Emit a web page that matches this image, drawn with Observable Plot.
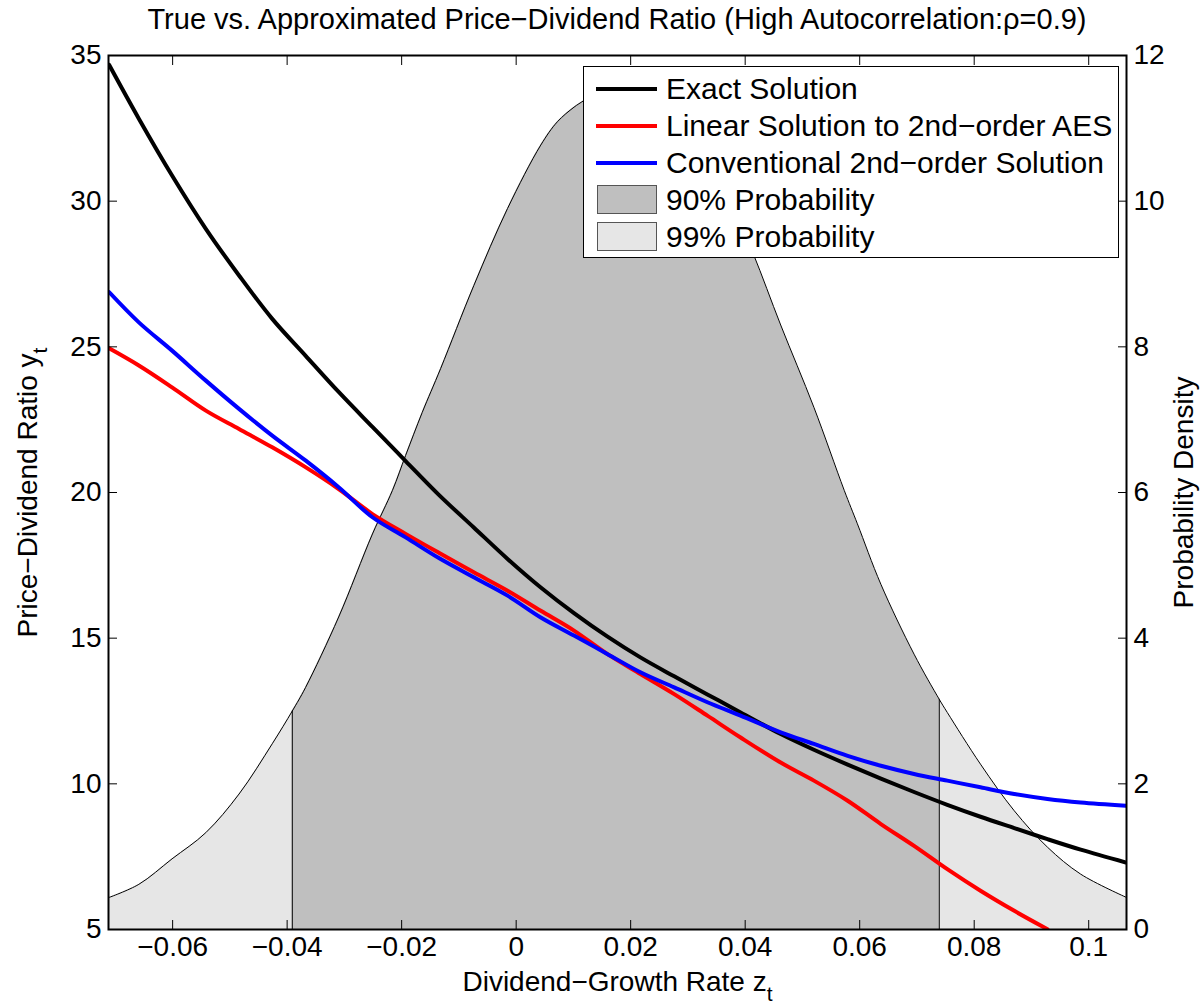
<!DOCTYPE html>
<html>
<head>
<meta charset="utf-8">
<script src="https://cdn.jsdelivr.net/npm/d3@7"></script>
<script src="https://cdn.jsdelivr.net/npm/@observablehq/plot@0.6"></script>
<style>
  html, body { margin: 0; padding: 0; background: #fff; }
  body { font-family: "Liberation Sans", Arial, Helvetica, sans-serif; color: #000; }
  #wrap { position: relative; width: 1200px; height: 1007px; }
  #title { height: 40px; width: 1234px; text-align: center; font-size: 29px; line-height: 38px; white-space: nowrap; }
  #legend { position: absolute; left: 583px; top: 66px; width: 536px; height: 192px; box-sizing: border-box;
            border: 1px solid #000; background: #fff; padding-top: 3px; }
  .row { display: flex; align-items: center; height: 37px; font-size: 30px; white-space: nowrap; }
  .sw { width: 61px; margin-left: 12px; margin-right: 9px; display: flex; align-items: center; justify-content: center; }
  .ln { width: 61px; height: 4px; }
  .pt { width: 58px; height: 27px; border: 1px solid #555; }
</style>
</head>
<body>
<div id="wrap">
  <div id="title">True vs. Approximated Price−Dividend Ratio (High Autocorrelation:ρ=0.9)</div>
  <div id="chart"></div>
  <div id="legend"></div>
</div>
<script>
// ---------------- data ----------------
const xDomain = [-0.0712, 0.1066];
const leftDomain = [5, 35];
const rightDomain = [0, 12];

const xTicks = [-0.06, -0.04, -0.02, 0, 0.02, 0.04, 0.06, 0.08, 0.1];
const yLeftTicks = [5, 10, 15, 20, 25, 30, 35];
const yRightTicks = [0, 2, 4, 6, 8, 10, 12];

const zGrid = [-0.0711, -0.0659, -0.0601, -0.0542, -0.0484, -0.0426, -0.0368, -0.0310, -0.0251, -0.0193,
               -0.0135, -0.0074, -0.0015, 0.0043, 0.0101, 0.0159, 0.0217, 0.0276, 0.0334, 0.0392,
               0.0462, 0.0520, 0.0579, 0.0637, 0.0695, 0.0753, 0.0811, 0.0870, 0.0928, 0.0986, 0.1065];

const exactY = [34.68, 32.83, 30.88, 29.05, 27.45, 25.96, 24.70, 23.45, 22.25, 21.08,
                19.92, 18.80, 17.72, 16.74, 15.86, 15.06, 14.34, 13.69, 13.07, 12.45,
                11.71, 11.17, 10.66, 10.18, 9.72, 9.28, 8.87, 8.48, 8.10, 7.74, 7.30];

const linearY = [24.95, 24.36, 23.61, 22.81, 22.18, 21.55, 20.87, 20.12, 19.26, 18.58,
                 17.93, 17.26, 16.63, 15.94, 15.26, 14.46, 13.77, 13.08, 12.34, 11.59,
                 10.73, 10.11, 9.42, 8.62, 7.87, 7.07, 6.33, 5.64, 5.01];

const conventionalY = [26.88, 25.84, 24.87, 23.84, 22.87, 21.95, 21.10, 20.18, 19.15, 18.46,
                       17.75, 17.09, 16.46, 15.71, 15.09, 14.46, 13.83, 13.31, 12.80, 12.34,
                       11.77, 11.37, 10.96, 10.62, 10.34, 10.11, 9.88, 9.65, 9.48, 9.36, 9.25];

const densityZ = [-0.0711, -0.0659, -0.0601, -0.0542, -0.0484, -0.0426, -0.0391, -0.0368, -0.0310, -0.0251,
                  -0.0216, -0.0193, -0.0164, -0.0132, -0.0074, -0.0015, 0.0043, 0.0072, 0.0101, 0.0118,
                  0.0145, 0.0174, 0.0205, 0.0235, 0.0260, 0.0300, 0.0350, 0.0413, 0.0462,
                  0.0520, 0.0573, 0.0596, 0.0637, 0.0695, 0.0739, 0.0753, 0.0811, 0.0870, 0.0928,
                  0.0986, 0.1066];
const densityP = [0.44, 0.62, 0.97, 1.33, 1.86, 2.55, 3.00, 3.32, 4.29, 5.43,
                  6.03, 6.51, 7.10, 7.70, 8.84, 9.90, 10.77, 11.09, 11.29, 11.38,
                  11.52, 11.60, 11.58, 11.48, 11.32, 11.00, 10.45, 9.30, 8.30,
                  7.17, 6.03, 5.57, 4.74, 3.78, 3.16, 2.98, 2.27, 1.63, 1.13,
                  0.76, 0.44];
const prob90 = [-0.0391, 0.0739];

const seriesNames = ["Exact Solution", "Linear Solution to 2nd−order AES", "Conventional 2nd−order Solution"];
const seriesColors = ["#000000", "#ff0000", "#0000ff"];
const patchNames = ["90% Probability", "99% Probability"];
const patchColors = ["#bfbfbf", "#e6e6e6"];

const xLabel = ["Dividend−Growth Rate z", "t"];
const yLabel = ["Price−Dividend Ratio y", "t"];
const y2Label = "Probability Density";

// ---------------- build ----------------
const toLeft = p => leftDomain[0] + (p - rightDomain[0]) * (leftDomain[1] - leftDomain[0]) / (rightDomain[1] - rightDomain[0]);
const toRight = v => rightDomain[0] + (v - leftDomain[0]) * (rightDomain[1] - rightDomain[0]) / (leftDomain[1] - leftDomain[0]);
const fmt = d3.format("~g");
const FS = 28;

const mk = ys => ys.map((y, i) => ({z: zGrid[i], y}));
const lines = [exactY, linearY, conventionalY].map(mk);
const density = densityZ.map((z, i) => ({z, p: densityP[i]}));
const dens90 = density.filter(d => d.z >= prob90[0] && d.z <= prob90[1]);
const bounds90 = [dens90[0], dens90[dens90.length - 1]];

const chart = Plot.plot({
  width: 1200,
  height: 967,
  marginLeft: 108,
  marginRight: 74,
  marginTop: 15,
  marginBottom: 78,
  style: {fontFamily: '"Liberation Sans", Arial, Helvetica, sans-serif', fontSize: FS + "px", background: "#fff", color: "#000", overflow: "visible"},
  x: {domain: xDomain},
  y: {domain: leftDomain},
  marks: [
    Plot.areaY(density, {x: "z", y1: leftDomain[0], y2: d => toLeft(d.p), fill: patchColors[1], curve: "catmull-rom"}),
    Plot.areaY(dens90, {x: "z", y1: leftDomain[0], y2: d => toLeft(d.p), fill: patchColors[0], curve: "catmull-rom"}),
    Plot.ruleX(bounds90, {x: "z", y1: leftDomain[0], y2: d => toLeft(d.p), stroke: "#000", strokeWidth: 1}),
    Plot.line(density, {x: "z", y: d => toLeft(d.p), stroke: "#000", strokeWidth: 1, curve: "catmull-rom"}),
    ...lines.map((data, i) => Plot.line(data, {x: "z", y: "y", stroke: seriesColors[i], strokeWidth: 4,
                                                 strokeLinejoin: "round", curve: "catmull-rom", clip: true})),
    Plot.frame({stroke: "#000", strokeWidth: 2}),
    Plot.axisX({anchor: "bottom", ticks: xTicks, tickSize: -9, tickPadding: 16, tickFormat: fmt, label: null, fontSize: FS}),
    Plot.axisX({anchor: "top", ticks: xTicks, tickSize: -9, tickFormat: () => "", label: null}),
    Plot.axisY({anchor: "left", ticks: yLeftTicks, tickSize: -9, tickPadding: 16, tickFormat: fmt, label: null, fontSize: FS}),
    Plot.axisY({anchor: "right", ticks: yRightTicks.map(toLeft), tickSize: -9, tickPadding: 16,
                tickFormat: v => fmt(Math.round(toRight(v) * 1e6) / 1e6), label: null, fontSize: FS}),
    Plot.text([xLabel[0]], {frameAnchor: "bottom", dy: 53, lineAnchor: "middle", textAnchor: "middle", text: d => d, fontSize: FS}),
    Plot.text([yLabel[0]], {frameAnchor: "left", dx: -80, rotate: -90, lineAnchor: "middle", textAnchor: "middle", text: d => d, fontSize: FS}),
    Plot.text([y2Label], {frameAnchor: "right", dx: 58, rotate: -90, lineAnchor: "middle", textAnchor: "middle", text: d => d, fontSize: FS})
  ]
});

document.getElementById("chart").appendChild(chart);

// subscripts
const svg = d3.select(chart);
[xLabel, yLabel].forEach(lab => {
  svg.selectAll("text").filter(function () { return this.textContent === lab[0]; })
    .append("tspan").attr("dy", 10).attr("font-size", 21).text(lab[1]);
});

// legend
const leg = d3.select("#legend");
seriesNames.forEach((name, i) => {
  const r = leg.append("div").attr("class", "row");
  r.append("div").attr("class", "sw").append("div").attr("class", "ln").style("background", seriesColors[i]);
  r.append("span").text(name);
});
patchNames.forEach((name, i) => {
  const r = leg.append("div").attr("class", "row");
  r.append("div").attr("class", "sw").append("div").attr("class", "pt").style("background", patchColors[i]);
  r.append("span").text(name);
});
</script>
</body>
</html>
